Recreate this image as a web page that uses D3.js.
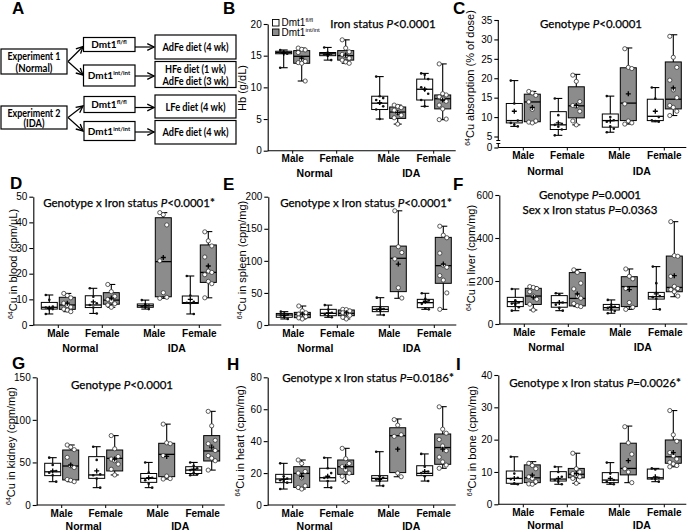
<!DOCTYPE html>
<html lang="en">
<head>
<meta charset="UTF-8">
<title>Dmt1 copper / iron box plots</title>
<script src="https://d3js.org/d3.v7.min.js"></script>
<style>
  body { margin: 0; background: white; }
  svg { display: block; }
  .arial { font-family: "Liberation Sans", Arial, sans-serif; }
  .cal { font-family: Lato, "Open Sans", sans-serif; }
</style>
</head>
<body>
<svg width="693" height="531"></svg>
<script>
  // groups on the x axis, each with a fl/fl (white) and int/int (gray) box
  const sexes = ["Male", "Female", "Male", "Female"];
  const statuses = ["Normal", "IDA"];

  // box rows: [min, q1, median, q3, max, mean]
  // order: Male-Normal fl, int | Female-Normal fl, int | Male-IDA fl, int | Female-IDA fl, int
  const hbStats = [
    [13.1, 15.3, 15.5, 15.7, 15.9, 15.4], [11.0, 13.8, 14.9, 15.8, 16.2, 14.6],
    [14.3, 15.0, 15.3, 15.5, 16.3, 15.2], [13.8, 14.3, 15.0, 15.8, 17.5, 15.1],
    [5.0, 6.5, 7.5, 8.6, 11.7, 7.6], [4.2, 5.1, 6.1, 6.9, 7.2, 6.0],
    [7.0, 8.0, 9.7, 11.3, 12.2, 9.7], [4.9, 6.6, 8.2, 8.8, 13.7, 8.0]
  ];
  const hbPoints = [
    [15.9, 15.6, 15.5, 15.5, 15.4, 15.3, 13.1], [16.2, 16.0, 15.9, 15.5, 14.3, 14.1, 13.9, 13.8, 11.0],
    [16.3, 15.5, 15.3, 15.2, 15.0, 14.3], [17.5, 16.2, 15.6, 15.2, 15.0, 14.6, 14.3, 14.0, 13.8],
    [11.7, 8.6, 8.3, 8.0, 7.5, 7.0, 6.5, 5.0], [7.2, 7.0, 6.8, 6.4, 6.0, 5.6, 5.2, 4.2],
    [12.2, 12.0, 11.3, 10.0, 9.6, 9.0, 8.0, 7.0], [13.7, 9.0, 8.8, 8.5, 8.2, 7.8, 7.2, 6.6, 5.0, 4.9]
  ];
  const absStats = [
    [7.6, 8.5, 9.1, 13.5, 19.4, 11.5], [8.5, 8.8, 13.9, 15.9, 16.6, 12.5],
    [5.3, 6.8, 8.0, 11.4, 14.8, 8.5], [8.0, 9.8, 12.9, 17.8, 21.0, 13.0],
    [6.1, 7.4, 9.1, 10.8, 15.4, 9.0], [8.2, 9.1, 13.6, 22.7, 27.8, 16.0],
    [8.8, 9.1, 10.2, 14.6, 17.6, 11.5], [10.4, 12.1, 14.6, 24.2, 31.2, 17.5]
  ];
  const absPoints = [
    [19.4, 13.5, 9.1, 8.5, 8.0, 7.6], [16.6, 16.2, 15.6, 13.9, 12.0, 9.0, 8.7, 8.5],
    [14.8, 10.5, 8.3, 8.0, 7.5, 6.8, 5.3], [20.8, 19.2, 14.0, 13.0, 12.8, 11.5, 9.0, 8.0],
    [15.4, 10.0, 9.2, 8.8, 7.6, 7.0, 6.1], [27.6, 22.8, 22.5, 13.4, 9.0, 8.5, 8.2],
    [17.6, 14.8, 10.0, 9.2, 9.0, 8.8], [30.8, 25.4, 22.8, 19.5, 17.0, 15.0, 13.0, 12.5, 11.5, 10.4]
  ];
  const bloodStats = [
    [4.3, 6.2, 6.9, 8.8, 11.7, 6.5], [5.2, 6.1, 7.8, 10.8, 12.3, 8.5],
    [4.5, 6.8, 7.8, 11.4, 14.3, 9.0], [6.9, 8.1, 9.7, 12.6, 15.8, 10.5],
    [6.2, 6.9, 7.5, 8.2, 9.7, 7.5], [10.4, 11.0, 24.7, 41.8, 43.8, 26.3],
    [4.3, 8.4, 8.7, 11.3, 19.1, 10.0], [10.6, 16.6, 20.5, 31.2, 36.4, 23.0]
  ];
  const bloodPoints = [
    [11.7, 9.8, 7.2, 6.8, 6.4, 6.2, 4.3], [12.3, 11.5, 10.6, 8.5, 7.6, 7.0, 6.2, 5.8, 5.2],
    [14.3, 11.0, 8.5, 7.8, 6.8, 4.5], [15.8, 13.0, 11.2, 10.0, 9.4, 8.3, 7.8, 6.9],
    [9.7, 8.0, 7.6, 7.3, 6.9, 6.2], [43.8, 43.0, 39.0, 25.0, 12.6, 10.8, 10.4],
    [19.1, 11.5, 9.0, 8.7, 8.5, 4.3], [36.3, 32.8, 30.8, 26.5, 21.0, 20.5, 19.6, 17.0, 16.1, 10.6]
  ];
  const spleenStats = [
    [9.4, 12, 15.6, 18, 20.8, 15], [9.4, 11.4, 16.6, 19.7, 29.6, 17],
    [12, 14.5, 18.2, 24.4, 31, 19], [9.4, 14.5, 18.2, 23.4, 24.4, 19],
    [15.6, 20.8, 24.4, 28.6, 42.6, 25], [41.6, 52, 104, 123, 178, 95],
    [24.4, 27, 34.8, 40, 49.4, 37], [24.4, 65, 92.5, 136.6, 154, 95]
  ];
  const spleenPoints = [
    [20.8, 18, 16, 15, 13, 9.4], [29.6, 22, 19, 17, 15.5, 13, 11, 9.4],
    [31, 24, 19, 17, 14, 12], [24.4, 24, 22, 19, 17.5, 15, 12, 9.4],
    [42.6, 28, 25, 24, 22, 15.6], [178, 122, 113, 103, 58, 42],
    [49.4, 41, 38, 33, 26, 24.4], [154, 140, 136, 112, 93, 90, 77, 70, 50, 24.4]
  ];
  const liverStats = [
    [62, 81, 104, 124, 163, 97], [65, 91, 130, 166, 174, 125],
    [62, 78, 99, 132, 143, 100], [81, 84, 119, 239, 254, 140],
    [50, 65, 76, 91, 112, 80], [68, 81, 174, 220, 256, 160],
    [68, 116, 127, 147, 267, 140], [127, 150, 170, 316, 476, 225]
  ];
  const liverPoints = [
    [163, 110, 100, 95, 90, 78, 62], [174, 170, 165, 150, 130, 115, 92, 65],
    [143, 136, 100, 90, 75, 62], [252, 240, 190, 163, 130, 120, 95, 85, 81],
    [112, 90, 80, 75, 68, 60, 50], [256, 222, 210, 165, 100, 78, 68],
    [267, 190, 130, 125, 118, 68], [476, 318, 315, 222, 175, 165, 160, 150, 130]
  ];
  const kidneyStats = [
    [27.4, 34.5, 39, 49, 55.6, 40], [27.4, 29.4, 45.8, 64.6, 70.5, 47],
    [20.4, 31.3, 35.3, 56.8, 68.5, 40], [35.3, 40, 54.8, 64.6, 81.5, 54],
    [20.4, 26.6, 31.3, 37, 50, 32], [30.5, 33.3, 59.5, 72.5, 95, 57],
    [35, 37, 41, 45, 50, 42], [41, 51.7, 63.5, 81.5, 110, 68]
  ];
  const kidneyPoints = [
    [55.6, 47, 40, 38, 35, 27.4], [70.5, 68, 65, 56, 46, 44, 30, 29, 27.4],
    [68.5, 53, 36, 35, 31, 20.4], [81.5, 66, 57, 54, 52, 48, 42, 35.3],
    [50, 38, 32, 29, 25, 20.4], [95, 73, 72, 58, 34, 31, 30.5],
    [50, 46, 43, 41, 38, 36, 35], [110, 93, 76, 72, 68, 64, 58, 55, 52, 41]
  ];
  const heartStats = [
    [10, 14, 16.3, 19.2, 26.1, 16], [10, 11, 19.8, 24, 28.2, 18],
    [10.9, 15, 17.1, 23, 29.6, 18], [14.6, 19.2, 24, 28.2, 35.5, 24],
    [12, 15, 16.7, 18.4, 33.4, 16], [17.7, 20.3, 43.4, 48.4, 53.9, 35],
    [15, 18.4, 19.8, 24.6, 32, 21], [23, 25.5, 36, 44.5, 61.6, 35]
  ];
  const heartPoints = [
    [26.1, 18, 16.5, 15.5, 15, 14, 10], [28.2, 26, 21, 20, 17, 12, 11, 10],
    [29.6, 23, 20, 17, 15, 10.9], [35.5, 29, 26, 24, 22, 20, 18, 14.6],
    [33.4, 18, 17, 16, 15, 12], [53.5, 50, 44, 43, 20, 17.7],
    [32, 24, 21, 20, 18, 15], [61.5, 47.5, 45, 41, 37, 34, 30, 27, 25, 23]
  ];
  const boneStats = [
    [6.2, 6.5, 8.0, 10.3, 14.7, 8], [6.2, 6.7, 8.2, 12.2, 13.2, 9],
    [6.2, 7.2, 7.8, 10.1, 11.6, 8], [6.5, 8.2, 9.3, 11.1, 15.8, 9.5],
    [6.2, 6.7, 7.5, 9.8, 12.9, 8], [6.7, 9.1, 11.1, 18.9, 24.2, 13.5],
    [7, 7.8, 8.2, 10.9, 11.1, 8.5], [11.6, 12.7, 14.7, 19.9, 29, 16]
  ];
  const bonePoints = [
    [14.7, 9.5, 8.2, 7.8, 6.5, 6.2], [12.7, 12, 11, 8.5, 8, 7, 6.3, 6.2],
    [11.6, 10, 8.5, 7.5, 7, 6.2], [15.8, 11, 10, 9.5, 9, 8.5, 8, 6.5],
    [12.9, 9.5, 7.5, 7, 6.5, 6.2], [24, 19, 15.5, 11, 10, 6.7],
    [11.1, 10.8, 8.2, 8, 7.8, 7], [29, 21.5, 19.5, 16, 15, 14, 13, 12.5, 12, 11.6]
  ];

  const hbTicks = [0, 5, 10, 15, 20];
  const absTicks = [0, 5, 10, 15, 20, 25, 30, 35];
  const bloodTicks = [0, 10, 20, 30, 40, 50];
  const spleenTicks = [0, 50, 100, 150, 200];
  const liverTicks = [0, 200, 400, 600];
  const kidneyTicks = [0, 50, 100, 150];
  const heartTicks = [0, 20, 40, 60, 80];
  const boneTicks = [0, 10, 20, 30, 40];

  const svg = d3.select("svg");
  const gray = "#8c8c8c";
  const groupOffsets = [25, 69, 121, 166];
  const axisLen = 188;

  // ---------- panel A: study design ----------
  const a = svg.append("g").attr("class", "cal").attr("font-weight", "bold").attr("font-size", 10.5);

  svg.append("defs").append("marker")
    .attr("id", "arr").attr("viewBox", "0 0 10 10").attr("refX", 9).attr("refY", 5)
    .attr("markerWidth", 7).attr("markerHeight", 7).attr("orient", "auto")
    .append("path").attr("d", "M1,1 L9,5 L1,9").attr("fill", "none").attr("stroke", "#000").attr("stroke-width", 1.6);

  function boxA(x, y, w, h) {
    a.append("rect").attr("x", x).attr("y", y).attr("width", w).attr("height", h)
      .attr("fill", "white").attr("stroke", "#000").attr("stroke-width", 1.2);
  }
  // text squeezed to the width it takes in the figure
  function txtA(x, y, s, len) {
    a.append("text").attr("x", x).attr("y", y).attr("text-anchor", "middle")
      .attr("textLength", len).attr("lengthAdjust", "spacingAndGlyphs").text(s);
  }
  function dmtA(x, y, sup) {
    const t = a.append("text").attr("x", x).attr("y", y).attr("text-anchor", "middle")
      .attr("font-size", 10).text("Dmt1");
    t.append("tspan").attr("font-size", 6).attr("dy", -4).text(sup);
  }
  function arrowA(x1, y1, x2, y2) {
    a.append("line").attr("x1", x1).attr("y1", y1).attr("x2", x2).attr("y2", y2)
      .attr("stroke", "#000").attr("stroke-width", 1.2).attr("marker-end", "url(#arr)");
  }

  // experiment 1 (normal)
  boxA(1, 49, 66, 25);
  txtA(34, 59.5, "Experiment 1", 53); txtA(34, 71.5, "(Normal)", 37);
  boxA(83.5, 37.5, 51.5, 14); dmtA(109, 48, "fl/fl");
  boxA(83.5, 65, 51.5, 21); dmtA(109, 79, "int/int");
  arrowA(68, 61.5, 83, 46.5);
  arrowA(68, 61.5, 83, 75);
  arrowA(135, 47, 154, 47);
  arrowA(135, 76, 154, 76);
  boxA(155, 35, 81, 24); txtA(195.5, 51, "AdFe diet (4 wk)", 66);
  boxA(155, 61.5, 81, 26); txtA(195.5, 73, "HFe diet (1 wk)", 61); txtA(195.5, 84.5, "AdFe diet (3 wk)", 66);

  // experiment 2 (IDA)
  boxA(1, 106, 66, 23);
  txtA(34, 116.5, "Experiment 2", 53); txtA(34, 127, "(IDA)", 21);
  boxA(84, 96.5, 51, 16); dmtA(109, 108, "fl/fl");
  boxA(84, 121.5, 51, 19); dmtA(109, 134.5, "int/int");
  arrowA(68, 117.5, 83, 106);
  arrowA(68, 117.5, 83, 131);
  arrowA(135, 107.5, 154, 107.5);
  arrowA(135, 132, 154, 132);
  boxA(155, 95, 81, 23); txtA(195.5, 110.5, "LFe diet (4 wk)", 60);
  boxA(155, 120.5, 81, 23.5); txtA(195.5, 136, "AdFe diet (4 wk)", 66);

  // ---------- panel letters ----------
  [["A", 12, 14], ["B", 223, 14], ["C", 453, 14], ["D", 10, 189], ["E", 223, 190], ["F", 453, 190],
   ["G", 12, 369], ["H", 227, 370], ["I", 456, 370]].forEach(([l, x, y]) => {
    svg.append("text").attr("class", "arial").attr("x", x).attr("y", y)
      .attr("font-size", 17).attr("font-weight", "bold").text(l);
  });

  // ---------- box-plot panels ----------
  const panels = [
    { stats: hbStats, pts: hbPoints, ticks: hbTicks, ax: 267.7, y0: 150.7, yTop: 24, domain: [0, 20], sub: 26,
      title: ["Iron status P<0.0001"], tx: 383, ty: [28], sup: "", ylab: "Hb (g/dL)", ylx: 242, yly: 88, legend: true },
    { stats: absStats, pts: absPoints, ticks: absTicks, ax: 498.3, y0: 147.5, yTop: 20, domain: [0, 5, 35], mid: 136.5, sub: 27,
      title: ["Genotype P<0.0001"], tx: 591, ty: [28], sup: "64", ylab: "Cu absorption (% of dose)", ylx: 470, yly: 78 },
    { stats: bloodStats, pts: bloodPoints, ticks: bloodTicks, ax: 33.3, y0: 325, yTop: 196.7, domain: [0, 50], sub: 27,
      title: ["Genotype x Iron status P<0.0001*"], tx: 129, ty: [207], sup: "64", ylab: "Cu in blood (cpm/µL)", ylx: 13, yly: 264 },
    { stats: spleenStats, pts: spleenPoints, ticks: spleenTicks, ax: 268.3, y0: 325, yTop: 196.7, domain: [0, 200], sub: 27,
      title: ["Genotype x Iron status P<0.0001*"], tx: 366, ty: [207], sup: "64", ylab: "Cu in spleen (cpm/mg)", ylx: 242, yly: 260 },
    { stats: liverStats, pts: liverPoints, ticks: liverTicks, ax: 499.3, y0: 324, yTop: 195, domain: [0, 600], sub: 27,
      title: ["Genotype P=0.0001", "Sex x Iron status P=0.0363"], tx: 590, ty: [199, 214], sup: "64", ylab: "Cu in liver (cpm/mg)", ylx: 471, yly: 258 },
    { stats: kidneyStats, pts: kidneyPoints, ticks: kidneyTicks, ax: 36.7, y0: 505, yTop: 377.3, domain: [0, 150], sub: 25,
      title: ["Genotype P<0.0001"], tx: 122, ty: [389], sup: "64", ylab: "Cu in kidney (cpm/mg)", ylx: 11, yly: 446 },
    { stats: heartStats, pts: heartPoints, ticks: heartTicks, ax: 267.7, y0: 505, yTop: 377.3, domain: [0, 80], sub: 25,
      title: ["Genotype x Iron status P=0.0186*"], tx: 368, ty: [382], sup: "64", ylab: "Cu in heart (cpm/mg)", ylx: 240, yly: 441 },
    { stats: boneStats, pts: bonePoints, ticks: boneTicks, ax: 498.3, y0: 504.3, yTop: 375, domain: [0, 40], sub: 25,
      title: ["Genotype x Iron status P=0.0026*"], tx: 595, ty: [387], sup: "64", ylab: "Cu in bone (cpm/mg)", ylx: 472, yly: 441 }
  ];

  function richText(sel, str) {
    str.split(/(P)(?=[<=])/).forEach(s => {
      if (!s) return;
      const t = sel.append("tspan").text(s);
      if (s === "P") t.attr("font-style", "italic");
    });
  }

  panels.forEach(p => {
    const g = svg.append("g");
    const range = p.domain.length === 3 ? [p.y0, p.mid, p.yTop] : [p.y0, p.yTop];
    const y = d3.scaleLinear().domain(p.domain).range(range);
    const gx = d3.scaleOrdinal().domain(d3.range(4)).range(groupOffsets.map(o => p.ax + o));

    // y axis
    const yAxis = g.append("g").attr("class", "arial")
      .attr("transform", `translate(${p.ax},0)`)
      .call(d3.axisLeft(y).tickValues(p.ticks).tickSize(4).tickPadding(2).tickSizeOuter(0));
    yAxis.selectAll("text").attr("font-size", 10).attr("fill", "#000");
    yAxis.selectAll("line").attr("stroke", "#000").attr("stroke-width", 1.1);
    yAxis.select(".domain").attr("stroke", "#000").attr("stroke-width", 1.1);
    if (p.domain.length === 3) {
      // broken axis between 0 and 5
      yAxis.select(".domain").remove();
      yAxis.append("line").attr("y1", p.yTop).attr("y2", p.mid + 4).attr("stroke", "#000").attr("stroke-width", 1.1);
      yAxis.append("line").attr("y1", p.y0).attr("y2", p.y0 - 4).attr("stroke", "#000").attr("stroke-width", 1.1);
      yAxis.append("line").attr("x1", -2).attr("x2", 2).attr("y1", p.mid + 4).attr("y2", p.mid + 4).attr("stroke", "#000");
      yAxis.append("line").attr("x1", -2).attr("x2", 2).attr("y1", p.y0 - 4).attr("y2", p.y0 - 4).attr("stroke", "#000");
    }

    // x axis
    g.append("line").attr("x1", p.ax).attr("x2", p.ax + axisLen).attr("y1", p.y0).attr("y2", p.y0)
      .attr("stroke", "#000").attr("stroke-width", 1.1);
    d3.range(4).forEach(i => {
      g.append("line").attr("x1", gx(i)).attr("x2", gx(i)).attr("y1", p.y0).attr("y2", p.y0 + 3)
        .attr("stroke", "#000").attr("stroke-width", 1);
      g.append("text").attr("class", "arial").attr("x", gx(i)).attr("y", p.y0 + 11.5)
        .attr("text-anchor", "middle").attr("font-size", 10).attr("font-weight", "bold").text(sexes[i]);
    });
    statuses.forEach((s, k) => {
      g.append("text").attr("class", "arial").attr("x", (gx(2 * k) + gx(2 * k + 1)) / 2).attr("y", p.y0 + p.sub)
        .attr("text-anchor", "middle").attr("font-size", 10.5).attr("font-weight", "bold").text(s);
    });

    // y title
    const yt = g.append("text").attr("class", "arial").attr("font-size", 11)
      .attr("transform", `translate(${p.ylx + 4},${p.yly}) rotate(-90)`).attr("text-anchor", "middle");
    if (p.sup) yt.append("tspan").attr("font-size", 7).attr("dy", -4.5).text(p.sup);
    yt.append("tspan").attr("dy", p.sup ? 4.5 : 0).text(p.ylab);

    // title
    p.title.forEach((t, k) => {
      richText(g.append("text").attr("class", "cal").attr("x", p.tx).attr("y", p.ty[k])
        .attr("text-anchor", "middle").attr("font-size", 11.5)
        .attr("stroke", "#000").attr("stroke-width", 0.25), t);
    });

    // boxes
    p.stats.forEach((st, i) => {
      const [mn, q1, md, q3, mx, mean] = st;
      const isInt = i % 2 === 1;
      const cx = gx(Math.floor(i / 2)) + (isInt ? 9 : -9);
      const bw = 16, cw = 8;
      const b = g.append("g");
      b.append("line").attr("x1", cx).attr("x2", cx).attr("y1", y(mn)).attr("y2", y(mx))
        .attr("stroke", "#000").attr("stroke-width", 1.1);
      [mn, mx].forEach(v => b.append("line").attr("x1", cx - cw / 2).attr("x2", cx + cw / 2)
        .attr("y1", y(v)).attr("y2", y(v)).attr("stroke", "#000").attr("stroke-width", 1.1));
      b.append("rect").attr("x", cx - bw / 2).attr("y", y(q3)).attr("width", bw)
        .attr("height", Math.max(1, y(q1) - y(q3)))
        .attr("fill", isInt ? gray : "white").attr("stroke", "#000").attr("stroke-width", 1);
      b.append("line").attr("x1", cx - bw / 2).attr("x2", cx + bw / 2).attr("y1", y(md)).attr("y2", y(md))
        .attr("stroke", "#000").attr("stroke-width", 1.3);
      p.pts[i].forEach((v, j) => {
        const dx = ((j % 3) - 1) * 3.5;
        if (isInt) {
          b.append("circle").attr("cx", cx + dx).attr("cy", y(v)).attr("r", 2.1)
            .attr("fill", "white").attr("stroke", "#333").attr("stroke-width", 0.8);
        } else {
          b.append("circle").attr("cx", cx + dx).attr("cy", y(v)).attr("r", 1.3).attr("fill", "#111");
        }
      });
      b.append("path").attr("d", `M${cx - 2.5},${y(mean)}h5M${cx},${y(mean) - 2.5}v5`)
        .attr("stroke", "#000").attr("stroke-width", 1.3);
    });

    // legend
    if (p.legend) {
      const lg = g.append("g").attr("class", "arial").attr("font-size", 10);
      [["white", "fl/fl", 19.5], [gray, "int/int", 29]].forEach(([f, sup, yy]) => {
        lg.append("rect").attr("x", 272.5).attr("y", yy).attr("width", 6.5).attr("height", 6.5)
          .attr("fill", f).attr("stroke", "#000").attr("stroke-width", 0.9);
        const t = lg.append("text").attr("x", 281.5).attr("y", yy + 6.5).text("Dmt1");
        t.append("tspan").attr("font-size", 6).attr("dy", -4).text(sup);
      });
    }
  });
</script>
</body>
</html>
